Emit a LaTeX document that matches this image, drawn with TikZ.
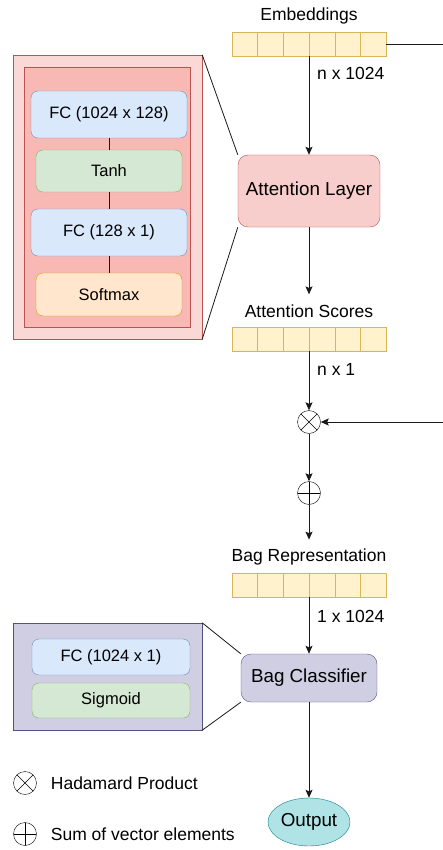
\documentclass[tikz,border=0pt]{standalone}
\usepackage{fontspec}
\setmainfont{Liberation Sans}
\usepackage{xcolor}
\usepackage{tikz}
\usetikzlibrary{arrows.meta,positioning,shapes.geometric,calc}
\definecolor{attfill}{HTML}{F8CECC}
\definecolor{attdraw}{HTML}{B85450}
\definecolor{zoomin}{HTML}{F8B9B5}
\definecolor{fcfill}{HTML}{DAE8FC}
\definecolor{fcdraw}{HTML}{6C8EBF}
\definecolor{actfill}{HTML}{D5E8D4}
\definecolor{actdraw}{HTML}{82B366}
\definecolor{smfill}{HTML}{FFE6CC}
\definecolor{smdraw}{HTML}{D79B00}
\definecolor{vecfill}{HTML}{FFF2CC}
\definecolor{vecdraw}{HTML}{D6B656}
\definecolor{clsfill}{HTML}{D0CEE2}
\definecolor{clsdraw}{HTML}{56517E}
\definecolor{outfill}{HTML}{B0E3E6}
\definecolor{outdraw}{HTML}{0E8088}
\newcommand{\vcells}[1]{\foreach \k in {1,...,5}{\draw[vecdraw] ($(#1.north west)!\k/6!(#1.north east)$) -- ($(#1.south west)!\k/6!(#1.south east)$);}}

\begin{document}
\begin{tikzpicture}[
  x=1pt, y=-1pt,
  lbl/.style={font=\fontsize{17.5}{20}\selectfont, inner sep=2pt},
  small/.style={draw, rounded corners=7pt, align=center, font=\fontsize{16.5}{19}\selectfont},
  main/.style={draw, rounded corners=10pt, align=center, font=\fontsize{18.8}{21}\selectfont},
  vec/.style={draw=vecdraw, fill=vecfill, minimum width=154pt, minimum height=24pt, inner sep=0pt},
  op/.style={circle, draw, minimum size=23pt, inner sep=0pt},
  otimes/.style={op, path picture={\draw (path picture bounding box.north west) -- (path picture bounding box.south east) (path picture bounding box.north east) -- (path picture bounding box.south west);}},
  oplus/.style={op, path picture={\draw (path picture bounding box.north) -- (path picture bounding box.south) (path picture bounding box.east) -- (path picture bounding box.west);}},
  arr/.style={-{Stealth[length=8pt, width=7pt, inset=1.5pt]}, black!90, line width=0.9pt},
  link/.style={black!90, line width=0.8pt}
]
\useasboundingbox (0,0) rectangle (442,850);

% attention branch
\node[lbl] (embtxt) at (309,16) {Embeddings};
\node[vec] (emb) at (309,44) {};
\vcells{emb}
\node[lbl, anchor=west] (embdim) at (315,73) {n x 1024};
\node[main, fill=attfill, draw=attdraw, minimum width=142pt, minimum height=72pt] (att) at (309,191) {Attention Layer};

\node[draw=attdraw, fill=attfill!80, minimum width=189pt, minimum height=284pt] (attzoom) at (107.5,197) {};
\node[draw=attdraw, fill=zoomin, minimum width=166pt, minimum height=260pt] (attinner) at (107,197) {};
\node[small, fill=fcfill, draw=fcdraw, minimum width=156pt, minimum height=47pt] (fcone) at (109,114.5) {FC (1024 x 128)};
\node[small, fill=actfill, draw=actdraw, minimum width=146pt, minimum height=42pt] (tanh) at (109,171) {Tanh};
\node[small, fill=fcfill, draw=fcdraw, minimum width=156pt, minimum height=47pt] (fctwo) at (109,232.5) {FC (128 x 1)};
\node[small, fill=smfill, draw=smdraw, minimum width=146pt, minimum height=43pt] (smax) at (109,294.5) {Softmax};
\draw[link] (fcone) -- (tanh);
\draw[link] (tanh) -- (fctwo);
\draw[link] (fctwo) -- (smax);
\draw[link] (attzoom.north east) -- (att.north west);
\draw[link] (attzoom.south east) -- (att.south west);

\node[lbl] (scoretxt) at (309,311) {Attention Scores};
\node[vec] (scores) at (309,339) {};
\vcells{scores}
\node[lbl, anchor=west] (scoredim) at (315,369) {n x 1};

% pooling
\node[otimes] (hada) at (309,422) {};
\node[oplus] (sum) at (309,493) {};
\coordinate (side) at (452,44);

\node[lbl] (bagtxt) at (309,557) {Bag Representation};
\node[vec] (bagrep) at (309,585) {};
\vcells{bagrep}
\node[lbl, anchor=west] (bagdim) at (315,616) {1 x 1024};

% classifier
\node[main, fill=clsfill, draw=clsdraw, minimum width=136pt, minimum height=48pt] (bagcls) at (309,678) {Bag Classifier};
\node[draw=clsdraw, fill=clsfill, minimum width=189pt, minimum height=107pt] (clszoom) at (107.5,676.5) {};
\node[small, fill=fcfill, draw=fcdraw, minimum width=158pt, minimum height=36pt] (fccls) at (111,657) {FC (1024 x 1)};
\node[small, fill=actfill, draw=actdraw, minimum width=158pt, minimum height=35pt] (sigm) at (111,700.5) {Sigmoid};
\draw[link] (clszoom.north east) -- (bagcls.north west);
\draw[link] (clszoom.south east) -- (bagcls.south west);
\node[ellipse, draw=outdraw, fill=outfill, minimum width=82pt, minimum height=48pt, inner sep=0pt, font=\fontsize{18.8}{21}\selectfont] (out) at (309,822) {Output};

% legend
\node[otimes] (lgprod) at (25,783) {};
\node[lbl, right=12pt of lgprod] (lgprodtxt) {Hadamard Product};
\node[oplus] (lgsum) at (25,834) {};
\node[lbl, right=12pt of lgsum] (lgsumtxt) {Sum of vector elements};

\draw[arr] (emb) -- (att);
\draw[arr, shorten >=8pt] (att) -- (scoretxt);
\draw[arr] (scores) -- (hada);
\draw[arr] (emb.east) -- (side) |- (hada.east);
\draw[arr] (hada) -- (sum);
\draw[arr, shorten >=7pt] (sum) -- (bagtxt);
\draw[arr] (bagrep) -- (bagcls);
\draw[arr] (bagcls) -- (out);
\end{tikzpicture}
\end{document}
